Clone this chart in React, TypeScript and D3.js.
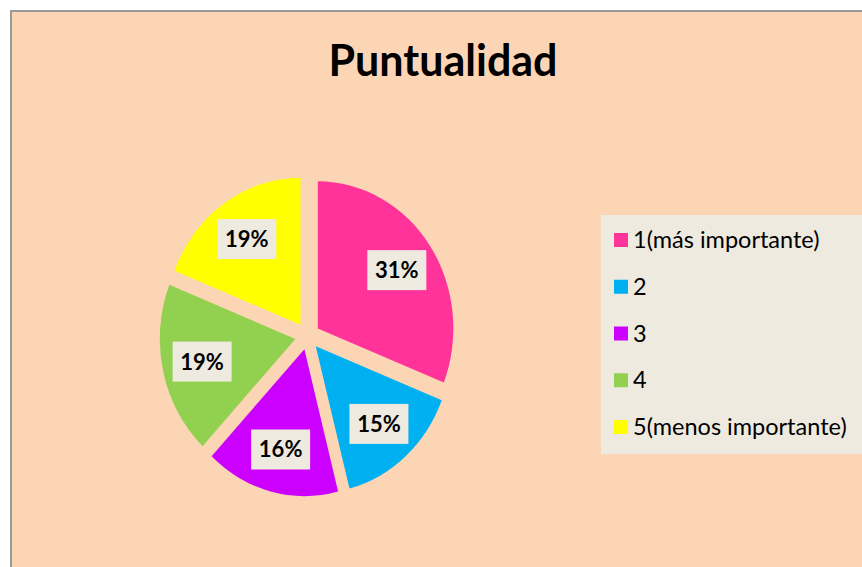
import * as d3 from 'd3';
import { useEffect, useRef } from 'react';

const categories = ['1(más importante)', '2', '3', '4', '5(menos importante)'];
const values = [31, 15, 16, 19, 19];
const colors = ['#FF3399', '#00B0F0', '#CC00FF', '#92D050', '#FFFF00'];
const title = 'Puntualidad';

const W = 862;
const H = 567;

export default function App() {
  const ref = useRef<SVGSVGElement | null>(null);

  useEffect(() => {
    const svg = d3.select(ref.current);
    svg.selectAll('*').remove();

    // chart area
    svg.append('rect')
      .attr('x', 11)
      .attr('y', 11)
      .attr('width', W)
      .attr('height', H)
      .attr('fill', '#FCD5B5')
      .attr('stroke', '#9A9A9A')
      .attr('stroke-width', 2);

    svg.append('text')
      .attr('x', 443)
      .attr('y', 76)
      .attr('text-anchor', 'middle')
      .attr('font-family', 'Lato, sans-serif')
      .attr('font-weight', 'bold')
      .attr('font-size', 43)
      .attr('fill', '#000')
      .text(title);

    // pie, slightly taller than wide like the source
    const cx = 307.5;
    const cy = 336;
    const r = 135.5;
    const ky = 1.085;
    const explode = 12.5;
    const labelR = 108;

    const pie = d3.pie<number>().value((d) => d).sort(null);
    const arcs = pie(values);
    const arcGen = d3.arc<d3.PieArcDatum<number>>().innerRadius(0).outerRadius(r);

    const g = svg.append('g').attr('transform', `translate(${cx},${cy}) scale(1,${ky})`);
    g.selectAll('path')
      .data(arcs)
      .enter()
      .append('path')
      .attr('d', (d) => arcGen(d) || '')
      .attr('fill', (d, i) => colors[i])
      .attr('transform', (d) => {
        const a = (d.startAngle + d.endAngle) / 2;
        return `translate(${Math.sin(a) * explode},${-Math.cos(a) * explode})`;
      });

    const total = d3.sum(values);
    const lg = svg.append('g');
    arcs.forEach((d) => {
      const a = (d.startAngle + d.endAngle) / 2;
      const x = cx + Math.sin(a) * labelR;
      const y = cy - Math.cos(a) * labelR * ky;
      lg.append('rect')
        .attr('x', x - 29.5)
        .attr('y', y - 20)
        .attr('width', 59)
        .attr('height', 40)
        .attr('fill', '#EEEAE0');
      lg.append('text')
        .attr('x', x)
        .attr('y', y + 8)
        .attr('text-anchor', 'middle')
        .attr('font-family', 'Lato, sans-serif')
        .attr('font-weight', 'bold')
        .attr('font-size', 22)
        .attr('fill', '#000')
        .text(`${Math.round((d.data / total) * 100)}%`);
    });

    // legend
    const legend = svg.append('g');
    legend.append('rect')
      .attr('x', 601)
      .attr('y', 215)
      .attr('width', W - 601)
      .attr('height', 239)
      .attr('fill', '#EEEAE0');

    const ly = d3.scalePoint<string>().domain(categories).range([240, 427]);
    categories.forEach((c, i) => {
      const y = ly(c) || 0;
      legend.append('rect')
        .attr('x', 614)
        .attr('y', y - 7)
        .attr('width', 14)
        .attr('height', 14)
        .attr('fill', colors[i]);
      legend.append('text')
        .attr('x', 633)
        .attr('y', y + 8)
        .attr('font-family', 'Lato, sans-serif')
        .attr('font-size', 23.5)
        .attr('fill', '#000')
        .text(c);
    });
  }, []);

  return (
    <svg
      ref={ref}
      width={W}
      height={H}
      style={{ position: 'absolute', left: 0, top: 0, display: 'block' }}
    />
  );
}
